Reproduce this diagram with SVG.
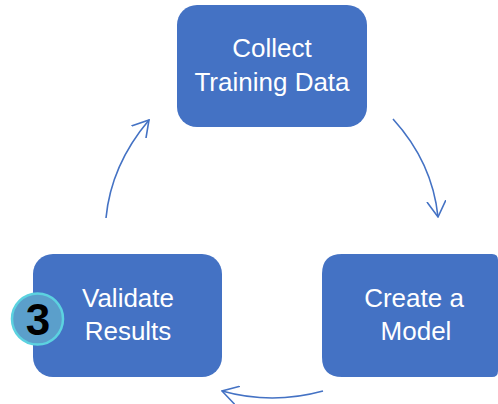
<svg xmlns="http://www.w3.org/2000/svg" width="498" height="404" viewBox="0 0 498 404">
  <style>
    .box { fill: #4472C4; }
    .lbl { font-family: "Liberation Sans", Arial, sans-serif; font-size: 26px; fill: #FFFFFF; text-anchor: middle; }
    .conn { fill: none; stroke: #4472C4; stroke-width: 1.6; marker-end: url(#arrow); }
    .badge { fill: #5B9FCB; stroke: #5CD2E0; stroke-width: 2.5; }
    .num { font-family: "Liberation Sans", Arial, sans-serif; font-size: 44px; font-weight: bold; fill: #000000; text-anchor: middle; }
  </style>
  <defs>
    <marker id="arrow" markerUnits="userSpaceOnUse" viewBox="0 0 17 20" refX="16" refY="10" markerWidth="17" markerHeight="20" orient="auto">
      <path d="M0,0.5 L16,10 L0,19.5" fill="none" stroke="#4472C4" stroke-width="1.6"/>
    </marker>
  </defs>
  <rect width="498" height="404" fill="#FFFFFF"/>

  <g id="connectors">
    <path class="conn" d="M393,119 Q432.5,162.5 438,217"/>
    <path class="conn" d="M323,391 Q272,405 222,391"/>
    <path class="conn" d="M106,218 Q111,165 149,120"/>
  </g>

  <g id="node-collect">
    <rect class="box" x="177" y="5" width="190" height="122" rx="20" ry="20"/>
    <text class="lbl" x="272" y="57">Collect</text>
    <text class="lbl" x="272" y="91">Training Data</text>
  </g>

  <g id="node-create">
    <path class="box" d="M342,254 H492 Q498,254 498,260 V371 Q498,377 492,377 H342 Q322,377 322,357 V274 Q322,254 342,254 Z"/>
    <text class="lbl" x="414" y="307">Create a</text>
    <text class="lbl" x="416" y="340">Model</text>
  </g>

  <g id="node-validate">
    <rect class="box" x="33" y="254" width="189" height="123" rx="20" ry="20"/>
    <text class="lbl" x="128" y="307">Validate</text>
    <text class="lbl" x="128" y="340">Results</text>
  </g>

  <g id="badge-3">
    <circle class="badge" cx="37.5" cy="319" r="25.5"/>
    <text class="num" x="38" y="335">3</text>
  </g>
</svg>
